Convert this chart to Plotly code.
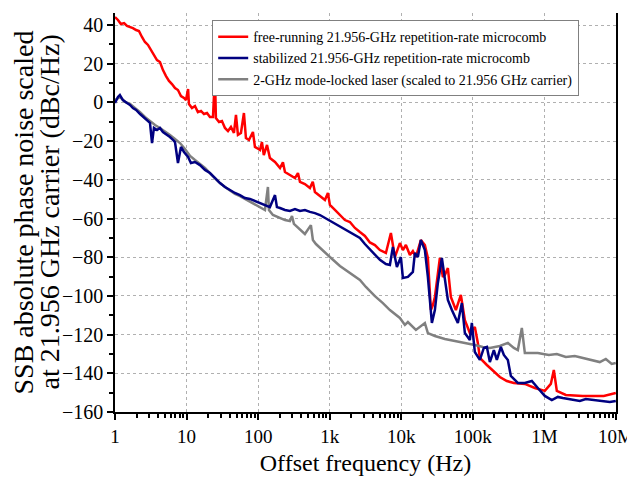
import plotly.graph_objects as go

# ---- data (offset frequency in Hz, SSB phase noise in dBc/Hz) ----
free_f = [1, 1.10, 1.21, 1.34, 1.47, 1.62, 1.78, 1.97, 2.16, 2.38, 2.62, 2.89, 3.18, 3.50, 3.86,
          4.25, 4.68, 5.16, 5.68, 6.25, 6.89, 7.58, 8.35, 9.20, 9.81, 10.5, 10.8, 11.9, 13.1, 14.4,
          15.9, 17.5, 19.3, 21.2, 23.4, 24.9, 25.7, 28.4, 31.2, 34.4, 37.9, 41.7, 45.9, 49.0, 52.2,
          57.5, 63.3, 67.5, 74.4, 84.6, 90.2, 96.2, 106, 113, 120, 133, 146, 172, 202, 222, 237, 278,
          327, 360, 384, 450, 529, 580, 621, 730, 857, 944, 1006, 1182, 1389, 1631, 1915, 2249, 2642,
          3102, 3644, 4280, 5025, 6095, 7157, 8140, 9559, 10530, 11600, 13190, 14520, 16000, 18780, 21360,
          23520, 25910, 27630, 29470, 34600, 38110, 40640, 44760, 49290, 57890, 67990, 77320, 90810, 106600, 117400,
          125300, 156900, 196500, 238300, 298500, 373900, 532500, 734300, 1.013e6, 1.229e6, 1.353e6, 1.490e6, 1.991e6, 3.439e6, 6.754e6,
          9.022e6, 9.936e6]
free_v = [44.1, 42.6, 40.5, 41.0, 39.5, 39.0, 38.4, 37.4, 36.9, 33.8, 31.2, 29.7, 27.1, 24.5, 21.9,
          20.9, 16.7, 13.6, 11.1, 9.5, 7.4, 6.4, 3.3, 2.3, 1.2, 6.9, -0.8, -2.9, -1.9, -5.0,
          -4.4, -6.0, -5.5, -7.5, -7.5, 14.2, -8.1, -10.1, -9.6, -13.2, -14.8, -12.7, -15.8, -6.5, -16.8,
          -15.8, -5.5, -18.4, -19.4, -15.3, -23.0, -23.6, -24.6, -20.5, -27.2, -22.0, -28.7, -30.8, -33.9, -31.0, -36.0, -37.5,
          -39.1, -36.5, -41.1, -42.2, -44.2, -41.0, -46.3, -48.4, -50.4, -46.8, -53.0, -55.6, -58.2, -60.8, -61.8, -64.9, -67.0,
          -69.0, -72.4, -73.7, -76.3, -77.8, -67.5, -79.9, -72.7, -76.3, -73.7, -78.9, -76.8, -79.9, -71.1, -73.7,
          -80.4, -107.3, -104.7, -100.6, -80.4, -90.2, -89.2, -85.6, -100.6, -107.3, -99.5, -112.5, -119.2, -116.1, -124.3,
          -132.1, -135.7, -138.8, -141.9, -144.0, -145.0, -145.5, -147.6, -149.1, -145.5, -138.3, -149.1, -151.2, -151.7, -151.7,
          -150.7, -150.2]

stab_f = [1, 1.10, 1.17, 1.29, 1.47, 1.62, 1.78, 1.97, 2.24, 2.46, 2.80, 3.08, 3.29, 3.50, 3.86,
          4.25, 4.68, 5.16, 5.86, 6.46, 6.89, 7.58, 8.35, 9.20, 10.5, 11.5, 13.1, 15.4, 18.1, 21.2,
          24.9, 29.3, 34.4, 40.4, 47.4, 55.7, 65.4, 76.8, 90.2, 106, 124.5, 146, 172, 183, 202,
          237, 278, 327, 384, 450, 529, 621, 730, 857, 1006, 1182, 1389, 1631, 1915, 2249,
          2642, 3102, 3644, 4280, 5025, 6095, 6932, 7633, 8683, 9872, 10530, 12370, 14520, 15490, 17050,
          18780, 21360, 23520, 26760, 29470, 32450, 36900, 40640, 44760, 50900, 61730, 70210, 77320, 90810, 96820,
          106600, 125300, 142400, 156900, 172800, 196500, 216300, 246100, 271000, 308300, 339400, 425100, 532500, 666800, 808800,
          1.013e6, 1.269e6, 1.538e6, 1.807e6, 2.493e6, 3.122e6, 3.785e6, 4.897e6, 6.754e6, 8.194e6, 9.936e6]
stab_v = [-0.3, 2.8, 3.8, 1.2, -0.3, -1.3, -2.9, -3.9, -6.0, -7.5, -9.1, -10.6, -21.0, -13.2, -14.3,
          -13.2, -15.3, -16.3, -17.9, -19.4, -20.5, -31.3, -23.0, -25.6, -28.2, -31.3, -30.8, -32.4, -34.9, -36.5,
          -39.1, -41.7, -43.7, -45.3, -46.8, -47.9, -49.4, -49.9, -51.0, -52.0, -53.0, -54.1, -47.9, -54.1, -54.6,
          -55.6, -56.1, -55.1, -56.1, -55.6, -56.6, -57.2, -58.2, -59.7, -61.3, -62.8, -64.4, -65.9, -67.0, -68.5,
          -70.1, -73.2, -75.8, -78.3, -81.4, -83.5, -84.0, -74.7, -85.1, -79.9, -90.7, -90.2, -87.6, -77.8, -79.9,
          -71.1, -76.3, -90.2, -114.0, -107.3, -93.3, -80.4, -91.8, -102.1, -107.3, -114.0, -103.7, -119.2, -122.8, -114.0,
          -129.0, -133.1, -126.9, -126.4, -134.2, -128.0, -133.1, -126.4, -130.5, -133.1, -141.4, -145.0, -145.0, -144.0, -147.6,
          -151.7, -153.8, -152.2, -152.8, -153.8, -154.3, -153.3, -153.8, -154.3, -154.8, -154.3]

mll_f = [1, 1.17, 1.38, 1.62, 1.90, 2.24, 2.62, 3.08, 3.62, 4.25, 4.99, 5.86, 6.89, 8.09, 9.50,
         11.2, 13.1, 15.4, 18.1, 21.2, 24.9, 29.3, 34.4, 40.4, 47.4, 55.7, 65.4, 76.8, 90.2, 106,
         124.5, 137, 141.5, 161, 202, 237, 278, 297, 316, 384, 450, 546, 582, 642, 730,
         857, 1006, 1389, 1915, 2642, 3203, 4280, 5534, 6932, 9559, 11230, 12370, 16000, 21360, 23520,
         29470, 40640, 56060, 79840, 106600, 137900, 172800, 238300, 308300, 373900, 425100, 483400, 532500, 808800, 1.152e6,
         1.490e6, 1.991e6, 2.658e6, 3.439e6, 4.592e6, 5.939e6, 7.205e6, 8.71e6, 9.936e6]
mll_v = [1.2, 2.8, 0.2, -0.8, -2.9, -5.0, -7.5, -9.6, -11.7, -13.2, -14.8, -16.8, -18.9, -21.0, -24.1,
         -27.7, -29.8, -31.8, -33.9, -36.5, -39.1, -41.7, -43.7, -45.3, -47.3, -48.4, -49.9, -51.0, -52.5, -54.1,
         -55.6, -43.7, -55.6, -58.2, -59.7, -60.8, -61.3, -58.7, -62.8, -65.9, -68.0, -63.4, -71.1, -73.2, -75.2,
         -77.3, -79.9, -84.5, -88.2, -91.8, -95.4, -100.1, -103.7, -107.3, -111.4, -115.0, -113.5, -117.6, -114.0, -119.2,
         -120.7, -122.3, -123.3, -124.3, -125.4, -126.4, -126.9, -125.9, -124.3, -126.9, -128.0, -116.6, -129.5, -129.5, -130.5,
         -130.0, -131.6, -131.1, -132.1, -133.1, -134.2, -132.6, -135.2, -134.7]

x_tickvals = [1, 10, 100, 1e3, 1e4, 1e5, 1e6, 1e7]
x_ticktext = ["1", "10", "100", "1k", "10k", "100k", "1M", "10M"]
y_tickvals = [40, 20, 0, -20, -40, -60, -80, -100, -120, -140, -160]

names = ["free-running 21.956-GHz repetition-rate microcomb",
         "stabilized 21.956-GHz repetition-rate microcomb",
         "2-GHz mode-locked laser (scaled to 21.956 GHz carrier)"]
colors = ["#ff0000", "#000080", "#808080"]
y_title_lines = ["SSB absolute phase noise scaled", "at 21.956 GHz carrier (dBc/Hz)"]
x_title = "Offset frequency (Hz)"

FF = "Liberation Serif"

fig = go.Figure()
fig.add_trace(go.Scatter(x=free_f, y=free_v, mode="lines", name=names[0], legendrank=1,
                         line=dict(color=colors[0], width=2.5)))
fig.add_trace(go.Scatter(x=mll_f, y=mll_v, mode="lines", name=names[2], legendrank=3,
                         line=dict(color=colors[2], width=2.5)))
fig.add_trace(go.Scatter(x=stab_f, y=stab_v, mode="lines", name=names[1], legendrank=2,
                         line=dict(color=colors[1], width=2.5)))

minor_x = [m * 10 ** d for d in range(7) for m in range(2, 10)]

# y-axis title as two rotated lines (tight line spacing like the original)
for xp, txt in zip([-0.1836, -0.1317], y_title_lines):
    fig.add_annotation(xref="paper", yref="paper", x=xp, y=0.5, text=txt, textangle=-90,
                       showarrow=False, xanchor="center", yanchor="middle",
                       font=dict(family=FF, size=28, color="black"))

fig.update_layout(
    width=635, height=474,
    margin=dict(l=107, r=27, t=5, b=70),
    paper_bgcolor="white", plot_bgcolor="white",
    font=dict(family=FF, color="black"),
    legend=dict(x=0.194, y=0.982, xanchor="left", yanchor="top",
                bgcolor="white", bordercolor="#808080", borderwidth=1,
                font=dict(family=FF, size=14, color="black"),
                tracegroupgap=0, itemwidth=30),
    xaxis=dict(type="log", range=[0, 7], tickvals=x_tickvals, ticktext=x_ticktext,
               showline=True, linecolor="black", linewidth=1.5, mirror=False,
               ticks="outside", ticklen=6, tickwidth=1.5, tickcolor="black",
               showgrid=True, gridcolor="#b0b0b0", griddash="dot", gridwidth=1,
               zeroline=False, automargin=False,
               minor=dict(tickvals=minor_x, ticks="outside", ticklen=4, tickcolor="black", showgrid=False),
               tickfont=dict(family=FF, size=19, color="black"),
               title=dict(text=x_title, font=dict(family=FF, size=24, color="black"), standoff=9)),
    yaxis=dict(range=[-160, 46.2], tickvals=y_tickvals,
               showline=True, linecolor="black", linewidth=1.5, mirror=True,
               ticks="outside", ticklen=6, tickwidth=1.5, tickcolor="black",
               showgrid=True, gridcolor="#b0b0b0", griddash="dot", gridwidth=1,
               zeroline=False, automargin=False,
               minor=dict(dtick=10, ticks="outside", ticklen=4, tickcolor="black", showgrid=False),
               tickfont=dict(family=FF, size=20, color="black")),
    showlegend=True,
)

fig.write_html("out.html")
